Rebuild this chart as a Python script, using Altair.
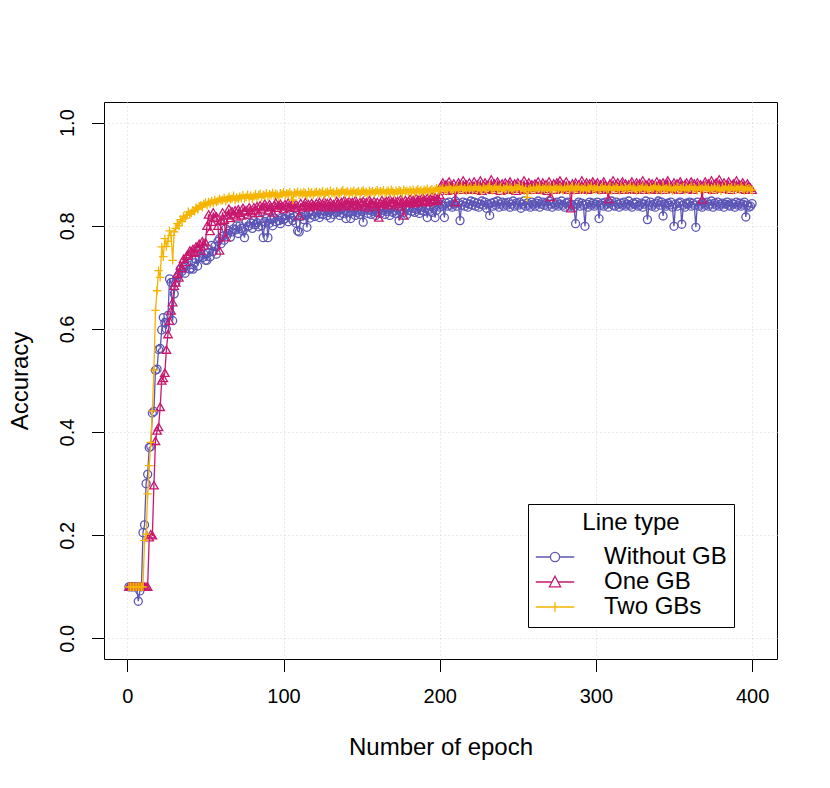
import altair as alt
import pandas as pd

epochs = list(range(1, 401))
names = ["Without GB", "One GB", "Two GBs"]
colors = ["#5B55B6", "#C8186E", "#F5B400"]

# accuracy values in thousandths
without_gb = [
    100,100,100,100,100,100,72,92,100,205,220,300,318,370,372,437,440,520,522,560,
    562,598,622,612,600,626,697,690,616,668,690,700,705,716,712,720,708,725,730,716,
    718,716,728,735,722,740,755,738,745,733,733,748,740,762,750,760,745,770,775,765,
    780,772,794,785,790,778,788,794,792,800,785,800,795,790,777,807,798,800,805,795,
    810,802,806,798,812,800,777,808,814,777,805,812,800,815,808,820,810,804,816,812,
    814,820,808,822,815,810,818,805,790,788,818,824,812,820,797,826,815,822,828,818,
    825,830,816,824,822,828,832,820,826,815,830,822,835,826,828,820,832,824,830,814,
    826,834,814,828,832,820,826,830,822,828,807,830,835,824,830,822,828,834,820,826,
    832,824,830,835,822,828,832,820,836,826,830,824,834,810,828,832,826,834,822,830,
    836,828,834,826,832,838,824,830,836,828,834,816,832,838,826,834,816,830,840,836,
    842,838,816,844,838,846,840,836,842,848,838,844,810,840,846,838,844,836,842,848,
    840,846,838,844,836,842,848,840,846,834,842,820,844,838,846,840,848,836,842,846,
    838,844,840,846,836,842,848,838,844,840,846,834,842,848,838,844,840,836,846,842,
    838,844,848,836,842,846,840,844,838,848,842,836,844,840,846,838,842,848,840,836,
    844,846,838,842,840,836,804,842,846,838,844,840,799,842,836,846,840,844,838,842,
    846,814,840,844,838,846,842,836,844,848,840,838,846,842,836,844,840,846,838,842,
    848,840,836,844,842,846,838,840,844,836,842,848,812,840,846,838,842,836,844,848,
    840,846,819,842,838,844,840,846,836,799,842,838,844,846,803,840,836,844,842,846,
    838,844,840,797,846,838,842,836,844,840,846,838,842,848,836,844,840,846,838,842,
    844,836,842,846,840,838,844,842,836,846,840,844,838,842,846,817,840,836,838,843,
]
one_gb = [
    100,100,100,100,100,100,100,100,100,100,100,100,100,196,202,200,297,383,403,410,
    449,500,505,515,560,590,616,636,652,684,690,707,700,723,718,736,730,742,745,752,
    750,755,748,760,758,765,752,770,762,768,800,822,790,808,826,815,818,800,752,810,
    826,812,778,820,833,815,828,822,830,818,832,825,820,835,828,830,822,836,830,826,
    836,830,838,825,840,832,836,843,838,830,842,836,826,840,845,835,840,843,838,832,
    842,838,845,836,840,843,835,842,838,820,844,836,840,846,838,842,836,844,840,838,
    844,840,846,838,842,848,836,844,840,846,838,842,836,848,844,840,846,838,850,842,
    844,848,838,846,840,850,842,838,846,844,848,840,846,836,850,844,842,848,838,846,
    816,844,850,842,846,848,840,852,844,846,850,842,848,838,852,846,820,850,844,848,
    852,846,850,844,854,848,852,846,856,850,848,854,846,852,858,850,856,848,852,860,
    878,884,872,880,868,886,876,870,882,846,874,884,878,870,888,876,880,872,884,870,
    876,886,870,880,874,888,868,878,884,872,880,876,890,870,882,874,886,878,868,882,
    876,884,870,880,886,872,878,882,868,884,876,880,872,888,870,878,884,874,880,870,
    882,876,886,870,878,884,872,880,868,886,856,878,882,870,884,876,888,872,880,874,
    886,870,878,834,882,876,884,870,880,874,888,872,878,884,870,882,876,886,872,880,
    884,874,880,870,886,878,872,852,882,876,888,870,880,884,874,878,886,870,882,876,
    880,872,886,876,870,884,878,882,874,888,870,880,876,884,872,882,878,870,886,874,
    882,876,884,870,880,888,874,878,872,884,876,882,870,886,878,874,880,884,872,878,
    886,870,882,876,884,874,880,851,878,886,872,882,876,888,870,880,884,874,890,878,
    872,884,876,880,886,870,878,882,874,888,876,880,872,884,878,870,882,876,874,870,
]
two_gbs = [
    100,100,100,100,100,100,100,100,100,100,190,202,280,335,380,441,520,636,674,713,
    700,759,740,775,760,770,790,781,733,788,795,804,800,812,808,818,815,820,827,822,
    825,830,828,835,832,838,840,836,842,845,840,846,843,848,844,850,846,848,852,849,
    850,854,848,852,856,851,853,858,850,855,852,857,854,859,853,856,860,855,858,852,
    857,861,855,859,862,856,860,858,863,857,861,859,864,858,862,860,856,863,861,865,
    859,863,861,865,860,850,864,862,866,860,864,861,865,863,858,866,862,865,860,864,
    866,861,865,863,867,860,864,866,862,868,863,865,861,867,864,862,866,869,863,865,
    867,862,866,864,868,863,865,867,861,866,869,864,866,862,868,865,867,863,866,869,
    864,867,865,869,863,866,868,864,870,866,862,868,865,869,867,863,870,866,868,865,
    869,866,870,864,868,871,866,869,865,870,868,872,866,869,871,867,870,873,868,871,
    870,874,868,872,869,875,871,868,873,870,874,869,872,876,870,873,868,875,871,874,
    869,873,876,870,874,871,868,875,872,870,874,877,871,869,873,876,870,872,875,868,
    873,871,876,870,874,872,869,875,871,873,877,870,874,868,872,855,871,873,869,874,
    870,874,872,876,869,873,871,875,870,874,872,868,876,871,873,870,875,872,869,874,
    871,875,870,873,877,869,874,872,876,870,873,871,875,868,874,872,877,870,873,871,
    875,869,873,876,871,874,870,872,876,869,874,871,875,873,869,876,872,870,874,871,
    873,877,870,874,872,868,875,871,873,876,870,874,872,869,875,871,873,877,870,874,
    872,869,876,871,873,870,875,872,868,874,871,876,870,873,872,875,869,874,871,873,
    876,870,874,872,869,875,871,873,870,876,872,874,869,873,871,875,870,874,872,868,
    874,871,876,870,873,872,875,869,874,871,873,870,876,872,869,874,871,873,870,869,
]

x_ticks = [0, 100, 200, 300, 400]
y_ticks = [0.0, 0.2, 0.4, 0.6, 0.8, 1.0]

marker_shapes = ["circle", "triangle-up", "M-1,0H1M0,-1V1"]
legend_paths = [
    "M-2,0H-0.48M0.48,0H2M-0.48,0A0.48,0.48 0 1,1 0.48,0A0.48,0.48 0 1,1 -0.48,0",
    "M-2,0H-0.32M0.32,0H2M0,-0.6L0.58,0.5L-0.58,0.5Z",
    "M-2,0H2M0,-0.5V0.5",
]

FONT = "Liberation Sans"

x_enc = alt.X(
    "epoch:Q",
    scale=alt.Scale(domain=[-14.96, 415.96], nice=False, zero=False),
    axis=alt.Axis(
        values=x_ticks, title="Number of epoch", domain=False,
        tickColor="black", tickSize=12.5, tickWidth=1,
        labelFont=FONT, labelFontSize=20, labelColor="black", labelPadding=15,
        labelFlush=False,
        grid=True, gridColor="#D3D3D3", gridDash=[1, 3], gridWidth=1,
        titleFont=FONT, titleFontSize=24, titleFontWeight="normal", titleColor="black",
        titleX=336.5, titleY=95, titleBaseline="alphabetic", titleAlign="center",
    ),
)
y_enc = alt.Y(
    "acc:Q",
    scale=alt.Scale(domain=[-0.04, 1.04], nice=False, zero=False),
    axis=alt.Axis(
        values=y_ticks, format=".1f", title="Accuracy", domain=False,
        tickColor="black", tickSize=12.5, tickWidth=1,
        labelFont=FONT, labelFontSize=20, labelColor="black",
        labelAngle=270, labelAlign="center", labelBaseline="alphabetic",
        labelPadding=18.5, labelFlush=False,
        grid=True, gridColor="#D3D3D3", gridDash=[1, 3], gridWidth=1,
        titleFont=FONT, titleFontSize=24, titleFontWeight="normal", titleColor="black",
        titleAngle=270, titleX=-77, titleY=278.5, titleBaseline="alphabetic",
        titleAlign="center",
    ),
)

layers = []
for name, vals, col, shp in zip(names, [without_gb, one_gb, two_gbs], colors, marker_shapes):
    d = pd.DataFrame({"epoch": epochs, "acc": [v / 1000 for v in vals], "series": name})
    base = alt.Chart(d).encode(x=x_enc, y=y_enc)
    layers.append(base.mark_line(color=col, strokeWidth=1.3))
    layers.append(
        base.mark_point(shape=shp, color=col, filled=False, size=72 if shp != "circle" else 64,
                        strokeWidth=1.3, opacity=1)
    )

leg = alt.Legend(
    title="Line type", orient="none", legendX=424, legendY=402, direction="vertical",
    titleFont=FONT, titleFontSize=24, titleFontWeight="normal", titleColor="black",
    titleAnchor="middle", titlePadding=9.5,
    labelFont=FONT, labelFontSize=24, labelColor="black", labelOffset=37,
    labelExpr="datum.label + '\u00a0\u00a0\u00a0'",
    symbolSize=369, symbolOffset=8, symbolStrokeWidth=1.3, symbolOpacity=1,
    symbolFillColor="white",
    clipHeight=25, rowPadding=0, padding=7,
    strokeColor="black", fillColor="white",
)
legend_df = pd.DataFrame({"series": names})
legend_layer = alt.Chart(legend_df).mark_point(filled=False, opacity=0).encode(
    shape=alt.Shape("series:N", scale=alt.Scale(domain=names, range=legend_paths), legend=leg),
    color=alt.Color("series:N", scale=alt.Scale(domain=names, range=colors), legend=leg),
)
layers.append(legend_layer)

chart = alt.layer(*layers).properties(
    width=673, height=557,
    autosize=alt.AutoSizeParams(type="none"),
    padding={"left": 96, "top": 94, "right": 45, "bottom": 120},
).configure(font=FONT, background="white").configure_view(stroke="black", strokeWidth=1)

chart.save("out.html", embed_options={"renderer": "svg", "actions": False})
